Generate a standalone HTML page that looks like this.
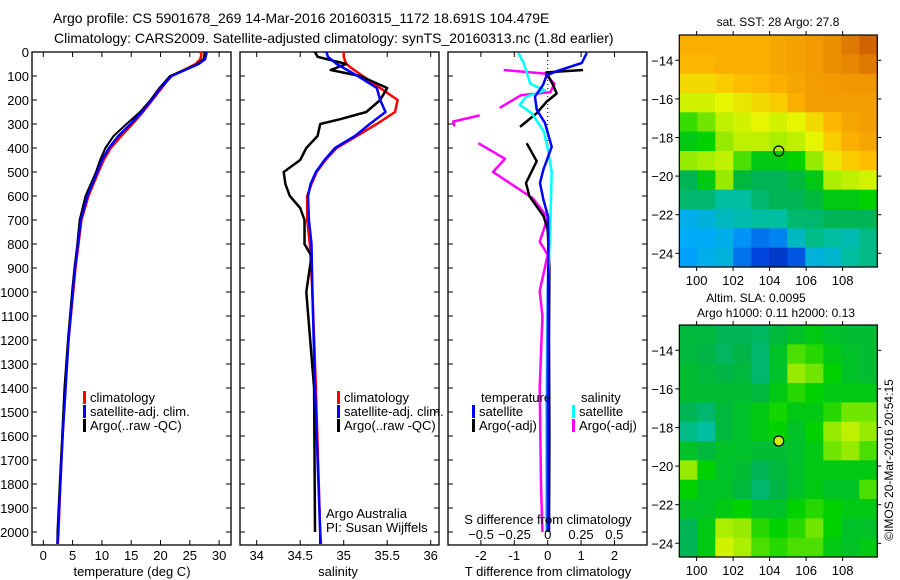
<!DOCTYPE html>
<html><head><meta charset="utf-8">
<style>
html,body{margin:0;padding:0;background:#fff;}
svg{display:block;font-family:"Liberation Sans",sans-serif;}
text{fill:#000;}
</style></head>
<body>
<svg id="chart" width="900" height="580" viewBox="0 0 900 580" xmlns="http://www.w3.org/2000/svg">
<text x="53" y="23" font-size="14">Argo profile: CS 5901678_269 14-Mar-2016 20160315_1172 18.691S 104.479E</text>
<text x="54" y="43" font-size="14">Climatology: CARS2009. Satellite-adjusted climatology: synTS_20160313.nc (1.8d earlier)</text>
<g id="g"></g>
</svg>
<script>
// ---- data ----
const depths = [0,10,30,50,75,100,150,200,250,300,350,400,450,500,600,700,800,900,1000,1200,1400,1600,1800,2000,2050];
const tempClim = [26.8,27.0,26.8,26.0,24.0,21.8,20.2,18.6,17.0,15.2,13.3,11.5,10.3,9.4,7.7,6.5,6.0,5.5,5.1,4.3,3.7,3.3,2.9,2.6,2.5];
const tempSat  = [27.9,27.8,27.6,26.5,24.2,21.9,20.0,18.5,16.8,14.9,12.8,11.2,10.0,9.2,7.5,6.4,5.9,5.4,5.0,4.3,3.8,3.3,2.9,2.5,2.4];
const tempArgo = [27.5,27.5,27.3,26.3,24.0,21.6,19.8,18.3,16.5,14.2,12.0,10.6,9.7,9.0,7.2,6.2,5.8,5.3,4.9,4.2,3.6,3.2,2.8,2.4,2.4];
const salDepths = [0,20,50,75,100,150,200,250,300,350,400,450,500,550,600,700,800,1000,1400,2000,2050];
const salClim = [35.0,35.0,35.03,35.12,35.22,35.42,35.62,35.59,35.38,35.15,34.92,34.79,34.69,34.63,34.58,34.58,34.61,34.64,34.68,34.73,34.74];
const salSat  = [34.80,34.82,34.92,35.04,35.16,35.38,35.42,35.48,35.30,35.13,34.90,34.78,34.68,34.62,34.59,34.60,34.63,34.64,34.67,34.73,34.73];
const argoSalDepths = [0,20,50,75,100,150,200,250,280,300,350,400,450,500,550,600,650,700,800,850,1000,1400,2000];
const salArgo = [34.67,34.70,35.03,34.85,35.19,35.5,35.42,35.26,34.96,34.73,34.70,34.57,34.5,34.31,34.33,34.38,34.5,34.55,34.55,34.63,34.57,34.66,34.67];
const tSatDiffDepths = [4,46,80,97,137,186,240,296,395,490,546,615,685,800,1000,1500,2000];
const tSatDiff = [1.17,1.02,0.27,-0.03,-0.14,-0.38,-0.33,-0.08,0.12,-0.13,-0.23,-0.13,0.01,0.02,0.01,0.0,0.0];
const tArgoDiffDepths = [75,85,137,173,208,255,312,null,380,455,546,600,685,740,900,1200,1600,2000];
const tArgoDiff = [1.06,-0.04,0.16,0.27,-0.04,-0.33,-0.83,null,-0.63,-0.33,-0.65,-0.55,-0.12,0.0,0.05,0.04,0.05,0.04];
const sSatDiffDepths = [4,46,133,160,186,220,255,330,400,500,700,1000,1500,2000];
const sSatDiff = [-0.22,-0.18,-0.13,-0.02,-0.16,-0.21,-0.12,-0.03,0.0,0.03,0.02,0.0,-0.01,-0.01];
const sArgoDiffDepths = [75,90,133,167,180,233,null,264,290,310,null,380,445,500,610,690,790,845,996,1100,1400,1800,2000];
const sArgoDiff = [-0.33,-0.02,0.05,0.02,-0.2,-0.36,null,-0.51,-0.71,-0.70,null,-0.52,-0.32,-0.41,-0.11,0.0,-0.06,0.0,-0.06,-0.04,-0.06,-0.05,-0.04];
const depthTicks = [0,100,200,300,400,500,600,700,800,900,1000,1100,1200,1300,1400,1500,1600,1700,1800,1900,2000];
const tempTicks = [0,5,10,15,20,25,30];
const salTicks = [34,34.5,35,35.5,36];
const tDiffTicks = [-2,-1,0,1,2];
const sDiffTicks = [-0.5,-0.25,0,0.25,0.5];
const sDiffTickLabels = ["\u22120.5","\u22120.25","0","0.25","0.5"];
const latTicks = [-14,-16,-18,-20,-22,-24];
const lonTicks = [100,102,104,106,108];
const sstGrid = [
[0.8,0.8,0.8,0.8,0.8,0.82,0.83,0.85,0.87,0.9,0.93],
[0.78,0.78,0.8,0.8,0.8,0.82,0.83,0.85,0.87,0.88,0.9],
[0.72,0.72,0.74,0.76,0.77,0.8,0.82,0.84,0.85,0.86,0.86],
[0.66,0.66,0.68,0.7,0.72,0.74,0.8,0.84,0.84,0.84,0.84],
[0.55,0.58,0.64,0.66,0.68,0.66,0.68,0.72,0.78,0.82,0.84],
[0.5,0.52,0.6,0.64,0.64,0.62,0.64,0.68,0.74,0.8,0.82],
[0.6,0.62,0.64,0.56,0.5,0.5,0.52,0.6,0.7,0.74,0.76],
[0.44,0.5,0.6,0.46,0.44,0.44,0.46,0.5,0.62,0.64,0.66],
[0.42,0.42,0.38,0.38,0.42,0.44,0.44,0.46,0.5,0.5,0.52],
[0.28,0.3,0.34,0.36,0.38,0.38,0.42,0.42,0.44,0.44,0.44],
[0.26,0.26,0.28,0.22,0.18,0.2,0.34,0.4,0.38,0.36,0.4],
[0.24,0.28,0.3,0.18,0.12,0.08,0.14,0.3,0.32,0.38,0.4]];
const slaGrid = [
[0.46,0.46,0.44,0.44,0.43,0.46,0.48,0.5,0.48,0.47,0.47],
[0.46,0.45,0.43,0.45,0.42,0.48,0.56,0.54,0.5,0.48,0.47],
[0.47,0.46,0.45,0.46,0.42,0.48,0.6,0.58,0.52,0.48,0.47],
[0.47,0.47,0.47,0.47,0.46,0.5,0.54,0.52,0.5,0.5,0.5],
[0.44,0.42,0.46,0.48,0.5,0.53,0.5,0.5,0.54,0.58,0.58],
[0.4,0.38,0.46,0.48,0.5,0.52,0.48,0.52,0.6,0.64,0.6],
[0.48,0.46,0.48,0.48,0.47,0.47,0.48,0.5,0.58,0.6,0.56],
[0.6,0.52,0.48,0.47,0.44,0.46,0.48,0.5,0.5,0.5,0.5],
[0.52,0.48,0.48,0.46,0.42,0.45,0.48,0.5,0.48,0.48,0.56],
[0.48,0.48,0.5,0.52,0.48,0.48,0.52,0.54,0.52,0.5,0.5],
[0.44,0.5,0.62,0.6,0.54,0.52,0.54,0.58,0.52,0.48,0.48],
[0.44,0.5,0.66,0.62,0.56,0.54,0.56,0.56,0.5,0.48,0.5]];
const argoLon = 104.5, argoLat = -18.7;

// ---- helpers ----
const NS="http://www.w3.org/2000/svg";
const G=document.getElementById('g');
function mk(tag,attrs,parent){const e=document.createElementNS(NS,tag);for(const k in attrs)e.setAttribute(k,attrs[k]);(parent||G).appendChild(e);return e;}
function txt(x,y,s,fs,anchor,parent){const t=mk('text',{x:x,y:y,'font-size':fs||13,'text-anchor':anchor||'start'},parent);t.textContent=s;return t;}
const PT=52, PB=545;
const yD = d => PT + d*0.24;
const xT = v => 43.3 + v*5.86;
const xS = v => 256.7 + (v-34)*87;
const xTd = v => 547.7 + v*33.4;
const xSd = v => 547.7 + v*133.3;

function frame(x0,x1,name){
  const r=mk('rect',{x:x0,y:PT,width:x1-x0,height:PB-PT,fill:'none',stroke:'#000','stroke-width':1.3});
  
  
}
function line(ds,vs,xf,color,name,w){
  let segs=[],cur=[];
  for(let i=0;i<ds.length;i++){
    if(ds[i]===null||vs[i]===null){if(cur.length)segs.push(cur);cur=[];continue;}
    cur.push(xf(vs[i]).toFixed(1)+','+yD(ds[i]).toFixed(1));
  }
  if(cur.length)segs.push(cur);
  const g=mk('g',{});
  
  
  segs.forEach(s=>mk('polyline',{points:s.join(' '),fill:'none',stroke:color,'stroke-width':w||2.5,'stroke-linejoin':'round'},g));
}
function depthTicksOn(x0,x1,labels){
  depthTicks.forEach(d=>{
    const y=yD(d);
    mk('line',{x1:x0,y1:y,x2:x0+5,y2:y,stroke:'#000'});
    mk('line',{x1:x1-5,y1:y,x2:x1,y2:y,stroke:'#000'});
    if(labels){const t=txt(x0-3,y+5,String(d),13,'end');}
  });
}
function xTicks(ticks,xf,labels,ylab,top,bot){
  ticks.forEach((v,i)=>{
    const x=xf(v);
    if(top) mk('line',{x1:x,y1:PT,x2:x,y2:PT+5,stroke:'#000'});
    if(bot) mk('line',{x1:x,y1:PB-5,x2:x,y2:PB,stroke:'#000'});
    const t=txt(x,ylab,labels?labels[i]:String(v),13,'middle');
    
    
  });
}
function legendEntry(x,y,color,label){
  const g=mk('g',{});
  
  
  mk('rect',{x:x,y:y-11,width:3,height:13,fill:color},g);
  txt(x+7,y,label,13,'start',g);
}

// ---- panel 1 temperature ----
frame(32,231,'temperature-panel');
depthTicksOn(32,231,true);
xTicks(tempTicks,xT,null,560,true,true);
line(depths,tempClim,xT,'#f00','temperature-climatology-line');
line(depths,tempSat,xT,'#00f','temperature-satellite-line');
line(depths,tempArgo,xT,'#000','temperature-argo-line',2);
line(depths,tempSat,xT,'#00f','temperature-satellite-line-top',2);
legendEntry(83,402,'#f00','climatology');
legendEntry(83,416,'#00f','satellite-adj. clim.');
legendEntry(83,430,'#000','Argo(..raw -QC)');
{const t=txt(132,576,'temperature (deg C)',13,'middle');}

// ---- panel 2 salinity ----
frame(240,439,'salinity-panel');
depthTicksOn(240,439,false);
xTicks(salTicks,xS,null,560,true,true);
line(salDepths,salClim,xS,'#f00','salinity-climatology-line');
line(argoSalDepths,salArgo,xS,'#000','salinity-argo-line');
line(salDepths,salSat,xS,'#00f','salinity-satellite-line');
legendEntry(337,402,'#f00','climatology');
legendEntry(337,416,'#00f','satellite-adj. clim.');
legendEntry(337,430,'#000','Argo(..raw -QC)');
{const t=txt(326,518,'Argo Australia',13);}
{const t=txt(326,532,'PI: Susan Wijffels',13);}
{const t=txt(338,576,'salinity',13,'middle');}

// ---- panel 3 differences ----
frame(448,647,'difference-panel');
depthTicksOn(448,647,false);
xTicks(tDiffTicks,xTd,null,560,true,true);
{const dl=mk('line',{x1:xTd(0),y1:PT,x2:xTd(0),y2:yD(400),stroke:'#000','stroke-dasharray':'1,3'});}
line(sArgoDiffDepths,sArgoDiff,xSd,'#f0f','salinity-argo-diff-line');
line(tArgoDiffDepths,tArgoDiff,xTd,'#000','temperature-argo-diff-line');
line(sSatDiffDepths,sSatDiff,xSd,'#0ff','salinity-satellite-diff-line');
line(tSatDiffDepths,tSatDiff,xTd,'#00f','temperature-satellite-diff-line');
{const t=txt(481,402,'temperature',13);}
{const t=txt(581,402,'salinity',13);}
legendEntry(472,416,'#00f','satellite');
legendEntry(572,416,'#0ff','satellite');
legendEntry(472,430,'#000','Argo(-adj)');
legendEntry(572,430,'#f0f','Argo(-adj)');
{const t=txt(548,524,'S difference from climatology',13,'middle');}
sDiffTicks.forEach((v,i)=>{const t=txt(xSd(v),539,sDiffTickLabels[i],13,'middle');});
{const t=txt(548,576,'T difference from climatology',13,'middle');}

// ---- maps ----
const stops=[[0,[0,30,160]],[0.12,[0,70,220]],[0.25,[0,170,255]],[0.38,[0,190,160]],[0.45,[0,180,70]],[0.52,[0,210,0]],[0.6,[150,235,0]],[0.68,[230,245,0]],[0.76,[255,190,0]],[0.86,[240,150,0]],[0.93,[210,100,0]],[1,[190,0,0]]];
function cmap(v){
  for(let i=1;i<stops.length;i++){if(v<=stops[i][0]){const a=stops[i-1],b=stops[i];const f=(v-a[0])/(b[0]-a[0]);const c=a[1].map((x,j)=>Math.round(x+(b[1][j]-x)*f));return 'rgb('+c+')';}}
  return 'rgb('+stops[stops.length-1][1]+')';
}
const LON0=99.05,LON1=109.9,LAT0=-12.69,LAT1=-24.71,MX0=679.3,MX1=877.3;
function drawMap(top,grid,name){
  const MY0=top,MY1=top+232;
  const xL=lon=>MX0+(lon-LON0)/(LON1-LON0)*(MX1-MX0);
  const yL=lat=>MY0+(lat-LAT0)/(LAT1-LAT0)*(MY1-MY0);
  const g=mk('g',{});
  
  
  const nr=grid.length,nc=grid[0].length;
  const cw=(MX1-MX0)/nc,ch=(MY1-MY0)/nr;
  for(let r=0;r<nr;r++)for(let c=0;c<nc;c++){
    const cell=mk('rect',{x:(MX0+c*cw).toFixed(2),y:(MY0+r*ch).toFixed(2),width:(cw+0.6).toFixed(2),height:(ch+0.6).toFixed(2),fill:cmap(grid[r][c])},g);
    
    
  }
  mk('rect',{x:MX0,y:MY0,width:MX1-MX0,height:MY1-MY0,fill:'none',stroke:'#000','stroke-width':1.2},g);
  latTicks.forEach(l=>{const y=yL(l);mk('line',{x1:MX0-4,y1:y,x2:MX0,y2:y,stroke:'#000'},g);mk('line',{x1:MX1,y1:y,x2:MX1+4,y2:y,stroke:'#000'},g);const t=txt(MX0-6,y+5,'\u2212'+Math.abs(l),13,'end',g);});
  lonTicks.forEach(l=>{const x=xL(l);mk('line',{x1:x,y1:MY0-4,x2:x,y2:MY0,stroke:'#000'},g);mk('line',{x1:x,y1:MY1,x2:x,y2:MY1+4,stroke:'#000'},g);const t=txt(x,MY1+18,String(l),13,'middle',g);});
  const m=mk('circle',{cx:xL(argoLon),cy:yL(argoLat),r:5,fill:name==='sla-map'?'#d0f000':'none',stroke:'#000','stroke-width':1.2},g);
  
  
}
drawMap(35,sstGrid,'sst-map');
drawMap(325,slaGrid,'sla-map');
{const t=txt(778,26,'sat. SST: 28 Argo: 27.8',12,'middle');}
{const t=txt(756,302,'Altim. SLA: 0.0095',12,'middle');}
{const t=txt(776,317,'Argo h1000: 0.11 h2000: 0.13',12,'middle');}
{const t=txt(0,0,'\u00a9IMOS 20-Mar-2016 20:54:15',12,'middle');t.setAttribute('transform','translate(893,460) rotate(-90)');}
</script>
</body></html>
